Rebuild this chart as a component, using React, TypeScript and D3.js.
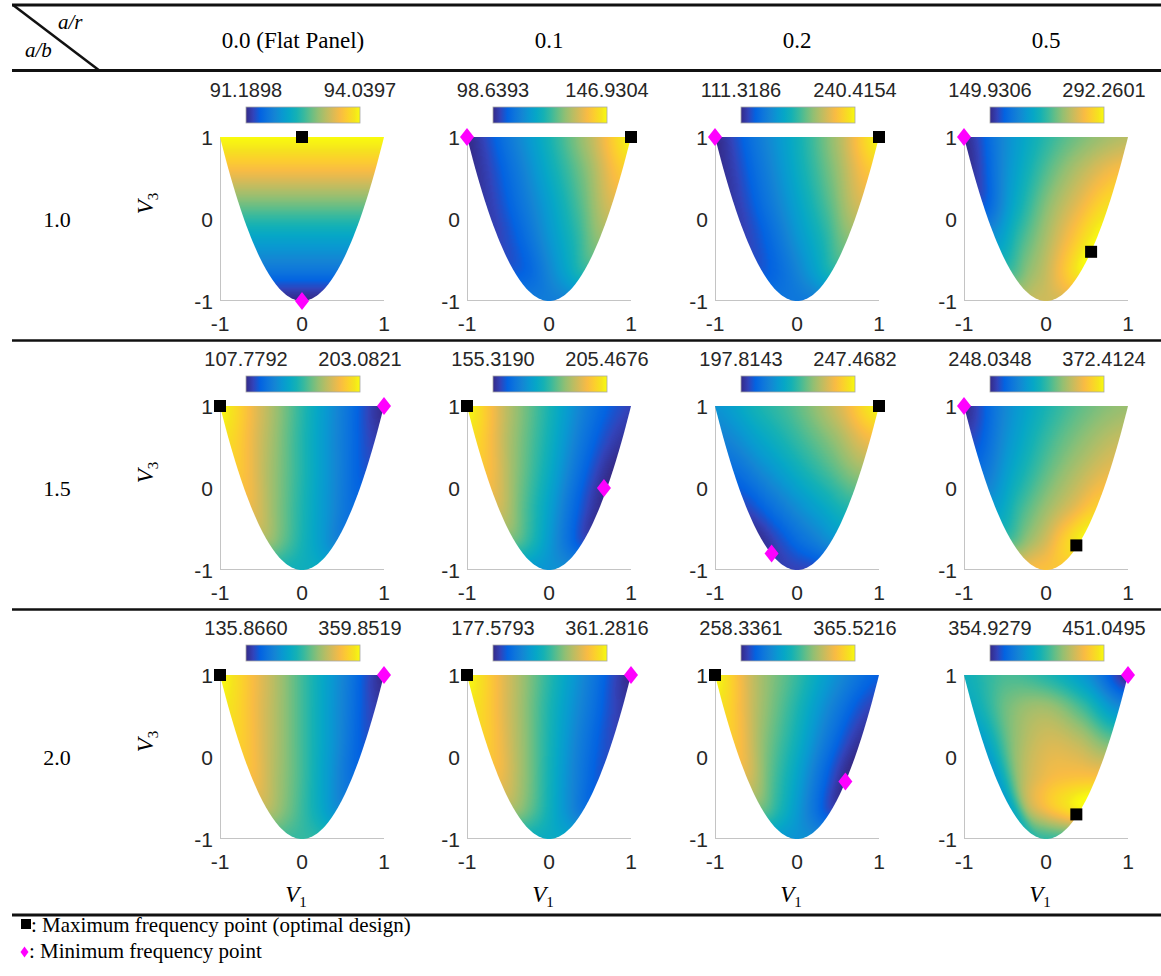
import React, { useMemo } from "react";
import * as d3 from "d3";

// Column headers: curvature ratio a/r; row headers: aspect ratio a/b
const curvatureLabels = ["0.0 (Flat Panel)", "0.1", "0.2", "0.5"];
const aspectLabels = ["1.0", "1.5", "2.0"];

// Colour-axis limits of every panel (fundamental frequency)
const freqMin = [
  [91.1898, 98.6393, 111.3186, 149.9306],
  [107.7792, 155.319, 197.8143, 248.0348],
  [135.866, 177.5793, 258.3361, 354.9279],
];
const freqMax = [
  [94.0397, 146.9304, 240.4154, 292.2601],
  [203.0821, 205.4676, 247.4682, 372.4124],
  [359.8519, 361.2816, 365.5216, 451.0495],
];

// Lamination parameters [V1, V3] of the maximum-frequency design
const maxPoints = [
  [[0, 1], [1, 1], [1, 1], [0.55, -0.4]],
  [[-1, 1], [-1, 1], [1, 1], [0.37, -0.7]],
  [[-1, 1], [-1, 1], [-1, 1], [0.37, -0.7]],
];
// Lamination parameters [V1, V3] of the minimum-frequency design
const minPoints = [
  [[0, -1], [-1, 1], [-1, 1], [-1, 1]],
  [[1, 1], [0.67, 0], [-0.31, -0.8], [-1, 1]],
  [[1, 1], [1, 1], [0.59, -0.3], [1, 1]],
];

const axisTicks = [-1, 0, 1];

// Frequency field sampled on the feasible region, as a fraction of the colour range.
// Rows: V3 levels; columns: relative position s across the region (V1 = s * sqrt((V3+1)/2)).
const fieldRowsV3 = [1, 0.6, 0.2, -0.2, -0.6];
const fieldColsS = [-1, -0.5, 0, 0.5, 1];
const fieldLevels: number[][][][] = [
  [
    [
      [1.0, 1.0, 1.0, 1.0, 1.0],
      [0.83, 0.83, 0.83, 0.83, 0.83],
      [0.6, 0.6, 0.6, 0.6, 0.6],
      [0.38, 0.38, 0.38, 0.38, 0.38],
      [0.21, 0.21, 0.21, 0.21, 0.21],
    ],
    [
      [0.0, 0.2, 0.44, 0.7, 1.0],
      [0.02, 0.18, 0.4, 0.62, 0.88],
      [0.04, 0.17, 0.35, 0.55, 0.77],
      [0.06, 0.155, 0.31, 0.47, 0.65],
      [0.1, 0.15, 0.26, 0.38, 0.5],
    ],
    [
      [0.0, 0.2, 0.42, 0.68, 1.0],
      [0.02, 0.19, 0.4, 0.62, 0.87],
      [0.04, 0.18, 0.36, 0.55, 0.76],
      [0.06, 0.16, 0.31, 0.46, 0.63],
      [0.1, 0.16, 0.25, 0.36, 0.48],
    ],
    [
      [0.0, 0.27, 0.48, 0.62, 0.7],
      [0.03, 0.31, 0.54, 0.71, 0.83],
      [0.1, 0.38, 0.61, 0.78, 0.93],
      [0.3, 0.5, 0.67, 0.84, 0.99],
      [0.5, 0.62, 0.72, 0.86, 0.99],
    ],
  ],
  [
    [
      [1.0, 0.75, 0.48, 0.22, 0.0],
      [0.93, 0.71, 0.47, 0.24, 0.05],
      [0.87, 0.67, 0.47, 0.27, 0.1],
      [0.8, 0.63, 0.46, 0.3, 0.16],
      [0.68, 0.57, 0.45, 0.34, 0.23],
    ],
    [
      [1.0, 0.7, 0.45, 0.2, 0.06],
      [0.92, 0.66, 0.43, 0.18, 0.03],
      [0.85, 0.62, 0.4, 0.16, 0.0],
      [0.76, 0.56, 0.36, 0.15, 0.01],
      [0.6, 0.48, 0.33, 0.18, 0.06],
    ],
    [
      [0.3, 0.44, 0.56, 0.75, 1.0],
      [0.24, 0.37, 0.5, 0.64, 0.82],
      [0.16, 0.28, 0.41, 0.53, 0.65],
      [0.08, 0.18, 0.29, 0.39, 0.48],
      [0.02, 0.09, 0.17, 0.24, 0.31],
    ],
    [
      [0.0, 0.26, 0.45, 0.58, 0.65],
      [0.08, 0.31, 0.5, 0.63, 0.72],
      [0.19, 0.39, 0.56, 0.69, 0.79],
      [0.33, 0.5, 0.64, 0.76, 0.88],
      [0.51, 0.63, 0.74, 0.88, 0.98],
    ],
  ],
  [
    [
      [1.0, 0.78, 0.52, 0.25, 0.0],
      [0.95, 0.75, 0.52, 0.27, 0.05],
      [0.9, 0.72, 0.52, 0.3, 0.1],
      [0.84, 0.68, 0.52, 0.33, 0.16],
      [0.72, 0.62, 0.51, 0.39, 0.27],
    ],
    [
      [1.0, 0.75, 0.48, 0.22, 0.0],
      [0.94, 0.72, 0.46, 0.22, 0.04],
      [0.89, 0.69, 0.45, 0.22, 0.07],
      [0.82, 0.65, 0.44, 0.24, 0.1],
      [0.68, 0.57, 0.43, 0.29, 0.17],
    ],
    [
      [1.0, 0.7, 0.5, 0.28, 0.12],
      [0.93, 0.67, 0.46, 0.23, 0.06],
      [0.87, 0.62, 0.42, 0.19, 0.02],
      [0.78, 0.56, 0.37, 0.16, 0.0],
      [0.6, 0.47, 0.33, 0.18, 0.05],
    ],
    [
      [0.42, 0.53, 0.47, 0.3, 0.0],
      [0.4, 0.6, 0.66, 0.52, 0.28],
      [0.35, 0.63, 0.75, 0.71, 0.58],
      [0.33, 0.67, 0.8, 0.83, 0.82],
      [0.37, 0.7, 0.84, 0.93, 1.0],
    ],
  ],
];
// Field level at the apex of the region (V1 = 0, V3 = -1)
const apexLevels = [
  [0.0, 0.22, 0.2, 0.74],
  [0.42, 0.3, 0.06, 0.85],
  [0.5, 0.4, 0.3, 0.5],
];

// MATLAB parula colormap stops
const parulaStops: number[][] = [
  [0.2081, 0.1663, 0.5292],
  [0.1959, 0.2645, 0.7279],
  [0.0117, 0.3875, 0.882],
  [0.0498, 0.4586, 0.8641],
  [0.0793, 0.52, 0.8312],
  [0.0343, 0.5966, 0.8199],
  [0.0228, 0.6535, 0.7768],
  [0.0843, 0.6928, 0.7062],
  [0.2178, 0.725, 0.6193],
  [0.3953, 0.7459, 0.5244],
  [0.5709, 0.7485, 0.4494],
  [0.7184, 0.7411, 0.3905],
  [0.8507, 0.7299, 0.336],
  [0.9739, 0.7314, 0.2666],
  [0.988, 0.8066, 0.1794],
  [0.9589, 0.8949, 0.1132],
  [0.9763, 0.9831, 0.0538],
];
const parulaPos = [0, 4, 8, 12, 16, 20, 24, 28, 32, 36, 40, 44, 48, 52, 56, 60, 63].map((i) => i / 63);
const parulaColors = parulaStops.map(
  (c) => d3.rgb(Math.round(c[0] * 255), Math.round(c[1] * 255), Math.round(c[2] * 255)).toString()
);
const parula = d3
  .scaleLinear<string>()
  .domain(parulaPos)
  .range(parulaColors)
  .interpolate(d3.interpolateRgb)
  .clamp(true);

// Layout
const W = 1161;
const H = 976;
const colLeft = [220, 467, 715, 964];
const rowTop = [137, 406, 675];
const plotSize = 164;
const headerX = [293, 549, 797, 1046];
const SERIF = "'Liberation Serif', 'Times New Roman', serif";
const SANS = "'Liberation Sans', Arial, sans-serif";
const AXIS_TEXT = "#262626";

const clampv = (v: number, a: number, b: number) => Math.max(a, Math.min(b, v));

function catmullRom(p0: number, p1: number, p2: number, p3: number, t: number) {
  return (
    0.5 *
    (2 * p1 +
      (-p0 + p2) * t +
      (2 * p0 - 5 * p1 + 4 * p2 - p3) * t * t +
      (-p0 + 3 * p1 - 3 * p2 + p3) * t * t * t)
  );
}

function sampleGrid(grid: number[][], fi: number, fj: number) {
  const nI = grid[0].length;
  const nJ = grid.length;
  const i1 = Math.min(Math.floor(fi), nI - 2);
  const j1 = Math.min(Math.floor(fj), nJ - 2);
  const ti = fi - i1;
  const tj = fj - j1;
  const g = (j: number, i: number) => grid[clampv(j, 0, nJ - 1)][clampv(i, 0, nI - 1)];
  const rowVal = (j: number) => catmullRom(g(j, i1 - 1), g(j, i1), g(j, i1 + 1), g(j, i1 + 2), ti);
  return catmullRom(rowVal(j1 - 1), rowVal(j1), rowVal(j1 + 1), rowVal(j1 + 2), tj);
}

const xScale = d3.scaleLinear().domain([-1, 1]).range([0, plotSize]);
const yScale = d3.scaleLinear().domain([-1, 1]).range([plotSize, 0]);

// Colour lookup table
const LUT = d3.range(256).map((i) => d3.rgb(parula(i / 255)));

function fieldImage(levels: number[][], apex: number): string {
  const grid = [...levels, fieldColsS.map(() => apex)];
  const rowsV3 = [...fieldRowsV3, -1];
  const dV3 = rowsV3[0] - rowsV3[1];
  const dS = fieldColsS[1] - fieldColsS[0];
  const n = plotSize;
  const canvas = document.createElement("canvas");
  canvas.width = n;
  canvas.height = n;
  const ctx = canvas.getContext("2d");
  if (!ctx) return "";
  const img = ctx.createImageData(n, n);
  for (let py = 0; py < n; py++) {
    const v3 = clampv(yScale.invert(py + 0.5), -1, 1);
    const w = Math.sqrt((v3 + 1) / 2);
    const fj = (rowsV3[0] - v3) / dV3;
    for (let px = 0; px < n; px++) {
      const v1 = xScale.invert(px + 0.5);
      const s = w > 1e-6 ? clampv(v1 / w, -1, 1) : 0;
      const fi = (s - fieldColsS[0]) / dS;
      const t = clampv(sampleGrid(grid, fi, fj), 0, 1);
      const c = LUT[Math.round(t * 255)];
      const k = (py * n + px) * 4;
      img.data[k] = c.r;
      img.data[k + 1] = c.g;
      img.data[k + 2] = c.b;
      img.data[k + 3] = 255;
    }
  }
  ctx.putImageData(img, 0, 0);
  return canvas.toDataURL();
}

// Outline of the feasible region V3 >= 2 V1^2 - 1, V3 <= 1
const regionPath =
  (d3.line<number>()
    .x((v1) => xScale(v1))
    .y((v1) => yScale(2 * v1 * v1 - 1))(d3.range(-1, 1.0001, 0.02)) || "") + "Z";

const fmt = d3.format(".4f");

function Panel({ r, c, href }: { r: number; c: number; href: string }) {
  const cbW = 114;
  const cbX = plotSize / 2 - cbW / 2 + 1;
  const [mx, my] = maxPoints[r][c];
  const [nx, ny] = minPoints[r][c];
  return (
    <g transform={`translate(${colLeft[c]},${rowTop[r]})`}>
      <clipPath id={`region-${r}-${c}`}>
        <path d={regionPath} />
      </clipPath>
      {/* axes */}
      <line x1={0.5} x2={0.5} y1={0} y2={plotSize} stroke="#c4c4c4" strokeWidth={1} />
      <line x1={0} x2={plotSize} y1={plotSize - 0.5} y2={plotSize - 0.5} stroke="#c4c4c4" strokeWidth={1} />
      <image
        href={href}
        x={0}
        y={0}
        width={plotSize}
        height={plotSize}
        preserveAspectRatio="none"
        clipPath={`url(#region-${r}-${c})`}
      />
      {axisTicks.map((t) => (
        <text
          key={`y${t}`}
          x={-7}
          y={yScale(t)}
          dy="0.36em"
          textAnchor="end"
          fontFamily={SANS}
          fontSize={21}
          fill={AXIS_TEXT}
        >
          {t}
        </text>
      ))}
      {axisTicks.map((t) => (
        <text
          key={`x${t}`}
          x={xScale(t)}
          y={plotSize + 30}
          textAnchor="middle"
          fontFamily={SANS}
          fontSize={21}
          fill={AXIS_TEXT}
        >
          {t}
        </text>
      ))}
      {/* colour bar */}
      <rect x={cbX} y={-30} width={cbW} height={16} fill="url(#parula-grad)" stroke="#a8a8a8" strokeWidth={0.8} />
      <text x={cbX} y={-40} textAnchor="middle" fontFamily={SANS} fontSize={20} fill={AXIS_TEXT}>
        {fmt(freqMin[r][c])}
      </text>
      <text x={cbX + cbW} y={-40} textAnchor="middle" fontFamily={SANS} fontSize={20} fill={AXIS_TEXT}>
        {fmt(freqMax[r][c])}
      </text>
      {/* extreme designs */}
      <path
        d={`M${xScale(nx)},${yScale(ny) - 9}L${xScale(nx) + 7},${yScale(ny)}L${xScale(nx)},${yScale(ny) + 9}L${xScale(nx) - 7},${yScale(ny)}Z`}
        fill="#ff00ff"
      />
      <rect x={xScale(mx) - 6} y={yScale(my) - 6} width={12} height={12} fill="#000" />
    </g>
  );
}

export default function App() {
  const images = useMemo(
    () => fieldLevels.map((row, r) => row.map((lv, c) => fieldImage(lv, apexLevels[r][c]))),
    []
  );
  return (
    <svg
      width={W}
      height={H}
      viewBox={`0 0 ${W} ${H}`}
      style={{ position: "absolute", left: 0, top: 0, background: "#fff" }}
    >
      <defs>
        <linearGradient id="parula-grad" x1="0" x2="1" y1="0" y2="0">
          {parulaPos.map((p, i) => (
            <stop key={i} offset={p} stopColor={parulaColors[i]} />
          ))}
        </linearGradient>
      </defs>
      <rect width={W} height={H} fill="#fff" />

      {/* table rules */}
      <line x1={12} x2={W} y1={5} y2={5} stroke="#111" strokeWidth={3} />
      <line x1={12} x2={W} y1={70.5} y2={70.5} stroke="#111" strokeWidth={3} />
      <line x1={12} x2={W} y1={340.5} y2={340.5} stroke="#111" strokeWidth={2.5} />
      <line x1={12} x2={W} y1={609.5} y2={609.5} stroke="#111" strokeWidth={2.5} />
      <line x1={12} x2={W} y1={915} y2={915} stroke="#111" strokeWidth={3} />
      <line x1={13} y1={5} x2={100} y2={71} stroke="#111" strokeWidth={2.5} />

      <text x={58} y={29} fontFamily={SERIF} fontStyle="italic" fontSize={21}>
        a/r
      </text>
      <text x={25} y={57} fontFamily={SERIF} fontStyle="italic" fontSize={21}>
        a/b
      </text>

      {curvatureLabels.map((l, c) => (
        <text key={l} x={headerX[c]} y={48} textAnchor="middle" fontFamily={SERIF} fontSize={23}>
          {l}
        </text>
      ))}

      {aspectLabels.map((l, r) => (
        <g key={l}>
          <text x={57} y={rowTop[r] + plotSize / 2 + 8} textAnchor="middle" fontFamily={SERIF} fontSize={22}>
            {l}
          </text>
          <text
            transform={`translate(153,${rowTop[r] + 66.5}) rotate(-90)`}
            textAnchor="middle"
            fontFamily={SERIF}
            fontSize={23}
          >
            <tspan fontStyle="italic">V</tspan>
            <tspan fontSize={15} dy={5}>
              3
            </tspan>
          </text>
        </g>
      ))}

      {fieldLevels.map((row, r) =>
        row.map((_, c) => <Panel key={`${r}-${c}`} r={r} c={c} href={images[r][c]} />)
      )}

      {colLeft.map((x, c) => (
        <text key={c} x={x + plotSize / 2 - 6} y={902} textAnchor="middle" fontFamily={SERIF} fontSize={23}>
          <tspan fontStyle="italic">V</tspan>
          <tspan fontSize={15} dy={5}>
            1
          </tspan>
        </text>
      ))}

      {/* legend */}
      <rect x={21} y={919} width={10} height={10} fill="#000" />
      <text x={31} y={932} fontFamily={SERIF} fontSize={21}>
        : Maximum frequency point (optimal design)
      </text>
      <path d="M24.5,946.5L28.5,952L24.5,957.5L20.5,952Z" fill="#ff00ff" />
      <text x={29} y={958} fontFamily={SERIF} fontSize={21}>
        : Minimum frequency point
      </text>
    </svg>
  );
}
